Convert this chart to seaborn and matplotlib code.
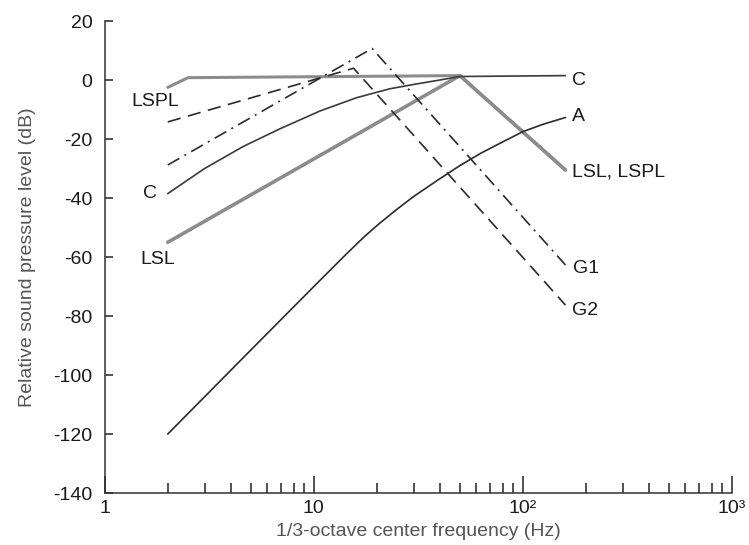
"""Frequency weighting curves: C, A, G1, G2, LSL and LSPL."""

import matplotlib.pyplot as plt
import matplotlib.ticker as mticker
import seaborn as sns

# Curve values (frequency in Hz, level in dB)
LSPL_F = [2, 2.5, 50, 160]
LSPL_DB = [-2.5, 0.8, 1.5, -30.5]

LSL_F = [2, 50, 160]
LSL_DB = [-55.0, 1.5, -30.5]

C_F = [2, 3, 4.6, 6.9, 10.7, 16, 23, 30, 40, 50, 160]
C_DB = [-38.5, -30.0, -22.5, -16.5, -10.5, -6.0, -3.0, -1.5, 0.0, 1.2, 1.5]

G1_F = [2, 19, 160]
G1_DB = [-28.8, 10.7, -62.7]

G2_F = [2, 15.5, 160]
G2_DB = [-14.2, 4.0, -76.3]

A_F = [2, 5, 10, 14.3, 17.5, 20.7, 25, 30, 40, 50, 63, 80, 100, 125, 160]
A_DB = [-120, -91.5, -70, -59, -53, -48.5, -43.8, -39.5, -33.5, -29, -24.8,
        -21, -17.5, -15, -12.7]

Y_TICKS = [20, 0, -20, -40, -60, -80, -100, -120, -140]
X_TICKS = [1, 10, 100, 1000]
X_TICKLABELS = ["1", "10", "10²", "10³"]

# Curve end labels: (text, freq, dB, ha)
LABELS = [
    ("C", 172, 0.0, "left"),
    ("A", 172, -12.2, "left"),
    ("LSL, LSPL", 172, -31.1, "left"),
    ("G1", 174, -64.0, "left"),
    ("G2", 172, -78.0, "left"),
    ("LSPL", 1.74, -7.4, "center"),
    ("C", 1.64, -38.6, "center"),
    ("LSL", 1.79, -61.0, "center"),
]


def main():
    sns.set_style("ticks")
    plt.rcParams["font.family"] = ["Liberation Sans", "DejaVu Sans"]
    plt.rcParams["axes.unicode_minus"] = False

    fig = plt.figure(figsize=(7.49, 5.45), dpi=100)
    ax = fig.add_axes([0.140, 0.0954, 0.837, 0.866])

    gray = "#8c8c8c"
    dark = "#2b2b2b"

    # Thick gray curves
    sns.lineplot(x=LSL_F, y=LSL_DB, ax=ax, color=gray, lw=2.6,
                 estimator=None, sort=False)
    sns.lineplot(x=LSPL_F, y=LSPL_DB, ax=ax, color=gray, lw=2.2,
                 estimator=None, sort=False)
    # Thin curves
    sns.lineplot(x=C_F, y=C_DB, ax=ax, color="#3a3a3a", lw=1.2,
                 estimator=None, sort=False)
    sns.lineplot(x=A_F, y=A_DB, ax=ax, color=dark, lw=1.2,
                 estimator=None, sort=False)
    sns.lineplot(x=G1_F, y=G1_DB, ax=ax, color=dark, lw=1.2,
                 estimator=None, sort=False, linestyle=(0, (8, 3.5, 1.2, 3.5)))
    sns.lineplot(x=G2_F, y=G2_DB, ax=ax, color=dark, lw=1.2,
                 estimator=None, sort=False, linestyle=(0, (8, 4.5)))

    for text, f, db, ha in LABELS:
        ax.text(f, db, text, ha=ha, va="center", fontsize=14, color="#1a1a1a")

    ax.set_xscale("log")
    ax.set_xlim(1, 1000)
    ax.set_ylim(-140, 20)
    ax.set_xticks(X_TICKS)
    ax.set_xticklabels(X_TICKLABELS)
    ax.xaxis.set_minor_locator(mticker.LogLocator(base=10, subs=range(2, 10)))
    ax.xaxis.set_minor_formatter(mticker.NullFormatter())
    ax.set_yticks(Y_TICKS)

    ax.tick_params(axis="x", which="major", direction="in", length=12,
                   width=1.1, color="#222222", labelsize=14, pad=5,
                   labelcolor="#1a1a1a")
    ax.tick_params(axis="x", which="minor", direction="in", length=7,
                   width=1.1, color="#222222")
    ax.tick_params(axis="y", direction="in", length=6, width=1.1,
                   color="#222222", labelsize=14, pad=9, labelcolor="#1a1a1a")

    sns.despine(ax=ax)
    for side in ("left", "bottom"):
        ax.spines[side].set_color("#333333")
        ax.spines[side].set_linewidth(1.1)

    ax.set_xlabel("1/3-octave center frequency (Hz)", fontsize=14,
                  color="#555555", labelpad=4)
    ax.set_ylabel("Relative sound pressure level (dB)", fontsize=14,
                  color="#555555", labelpad=12)

    fig.savefig("out.png", dpi=100)


if __name__ == "__main__":
    main()
